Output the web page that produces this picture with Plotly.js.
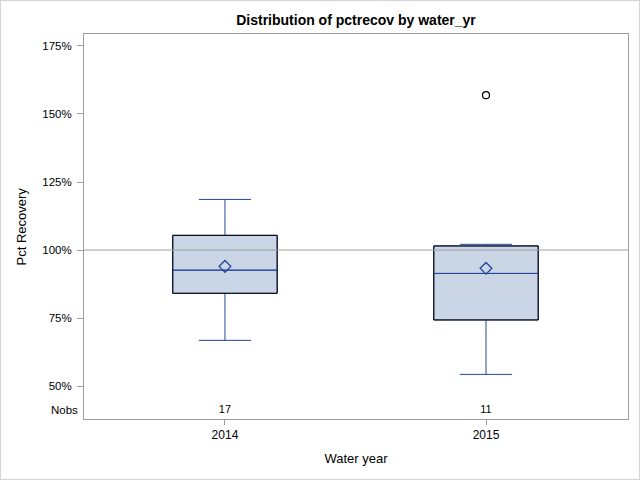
<!DOCTYPE html>
<html>
<head>
<meta charset="utf-8">
<script src="https://cdn.plot.ly/plotly-3.0.1.min.js"></script>
<style>
  html, body { margin: 0; padding: 0; background: #fff; }
  #chart { width: 638px; height: 478px; border: 1px solid #D4D4D4; }
</style>
</head>
<body>
<div id="chart"></div>
<script>
// ---- data ----
var years = ['2014', '2015'];
var q1 = [84.1, 74.3];
var median = [92.6, 91.4];
var q3 = [105.4, 101.5];
var lowerWhisker = [66.8, 54.3];
var upperWhisker = [118.6, 102.1];
var means = [94.0, 93.3];
var nobs = [17, 11];
var outlierYearIdx = [1];
var outlierValues = [156.9];
var yTickVals = [50, 75, 100, 125, 150, 175];
var yTickText = ['50%', '75%', '100%', '125%', '150%', '175%'];
var refValue = 100;

// ---- styling constants ----
var BOX_W = 0.4;
var NOBS_Y = 41.2;
var BLUE = '#24479B';
var FILL = '#CAD5E5';
var AXIS_GRAY = '#9A9EA2';
var FONT = '"Liberation Sans", Arial, sans-serif';

var pos = years.map(function (_, i) { return i; });

var traces = [];

traces.push({
  type: 'box',
  x: pos,
  q1: q1,
  median: median,
  q3: q3,
  lowerfence: lowerWhisker,
  upperfence: upperWhisker,
  width: BOX_W,
  whiskerwidth: 0.5,
  fillcolor: FILL,
  line: { color: BLUE, width: 1 },
  boxpoints: false,
  hoverinfo: 'skip',
  showlegend: false
});

// black outline of each box
var ox = [], oy = [];
pos.forEach(function (p, i) {
  var a = p - BOX_W / 2, b = p + BOX_W / 2;
  ox.push(a, b, b, a, a, null);
  oy.push(q1[i], q1[i], q3[i], q3[i], q1[i], null);
});
traces.push({
  type: 'scatter', mode: 'lines', x: ox, y: oy,
  line: { color: '#000000', width: 1 },
  hoverinfo: 'skip', showlegend: false
});

// median lines redrawn on top
var mx = [], my = [];
pos.forEach(function (p, i) {
  mx.push(p - BOX_W / 2, p + BOX_W / 2, null);
  my.push(median[i], median[i], null);
});
traces.push({
  type: 'scatter', mode: 'lines', x: mx, y: my,
  line: { color: BLUE, width: 1 },
  hoverinfo: 'skip', showlegend: false
});

// means
traces.push({
  type: 'scatter', mode: 'markers', x: pos, y: means,
  marker: { symbol: 'diamond-open', size: 9, color: BLUE, line: { color: BLUE, width: 1.3 } },
  hoverinfo: 'skip', showlegend: false
});

// outliers
traces.push({
  type: 'scatter', mode: 'markers',
  x: outlierYearIdx, y: outlierValues,
  marker: { symbol: 'circle-open', size: 7, color: '#000000', line: { color: '#000000', width: 1.2 } },
  hoverinfo: 'skip', showlegend: false
});

// Nobs counts
traces.push({
  type: 'scatter', mode: 'text', x: pos,
  y: pos.map(function () { return NOBS_Y; }),
  text: nobs.map(String),
  textposition: 'middle center',
  textfont: { family: FONT, size: 11, color: '#000000' },
  hoverinfo: 'skip', showlegend: false
});

var layout = {
  width: 638, height: 478,
  margin: { l: 83, r: 11, t: 33, b: 60 },
  paper_bgcolor: '#ffffff',
  plot_bgcolor: '#ffffff',
  showlegend: false,
  font: { family: FONT, color: '#000000' },
  title: {
    text: '<b>Distribution of pctrecov by water_yr</b>',
    font: { family: FONT, size: 14, color: '#000000' },
    x: 0.5, xref: 'paper', y: 0.961, yref: 'container', yanchor: 'middle'
  },
  xaxis: {
    type: 'linear',
    range: [-0.54, 1.544],
    tickmode: 'array',
    tickvals: pos,
    ticktext: years,
    ticks: 'outside', ticklen: 5, tickcolor: AXIS_GRAY, tickwidth: 1,
    showline: true, linecolor: AXIS_GRAY, linewidth: 1, mirror: true,
    showgrid: false, zeroline: false,
    tickfont: { family: FONT, size: 12, color: '#000000' },
    title: { text: 'Water year', font: { family: FONT, size: 13, color: '#000000' }, standoff: 12 }
  },
  yaxis: {
    range: [37.9, 179.4],
    tickmode: 'array',
    tickvals: yTickVals,
    ticktext: yTickText,
    ticks: 'outside', ticklen: 6, tickcolor: AXIS_GRAY, tickwidth: 1,
    ticklabelstandoff: 3,
    showline: true, linecolor: AXIS_GRAY, linewidth: 1, mirror: true,
    showgrid: false, zeroline: false,
    tickfont: { family: FONT, size: 11.5, color: '#000000' }
  },
  shapes: [{
    type: 'line', xref: 'paper', x0: 0, x1: 1, yref: 'y', y0: refValue, y1: refValue,
    line: { color: '#A0A0A0', width: 1 }, layer: 'above'
  }],
  annotations: [{
    text: 'Nobs', xref: 'paper', x: 0, xanchor: 'right', xshift: -4,
    yref: 'y', y: NOBS_Y, yanchor: 'middle', showarrow: false,
    font: { family: FONT, size: 11.5, color: '#000000' }
  }, {
    text: 'Pct Recovery', xref: 'paper', x: 0, xanchor: 'center', xshift: -63,
    yref: 'paper', y: 0.5, yanchor: 'middle', textangle: -90, showarrow: false,
    font: { family: FONT, size: 13, color: '#000000' }
  }]
};

Plotly.newPlot('chart', traces, layout, { displayModeBar: false, staticPlot: true });
</script>
</body>
</html>
